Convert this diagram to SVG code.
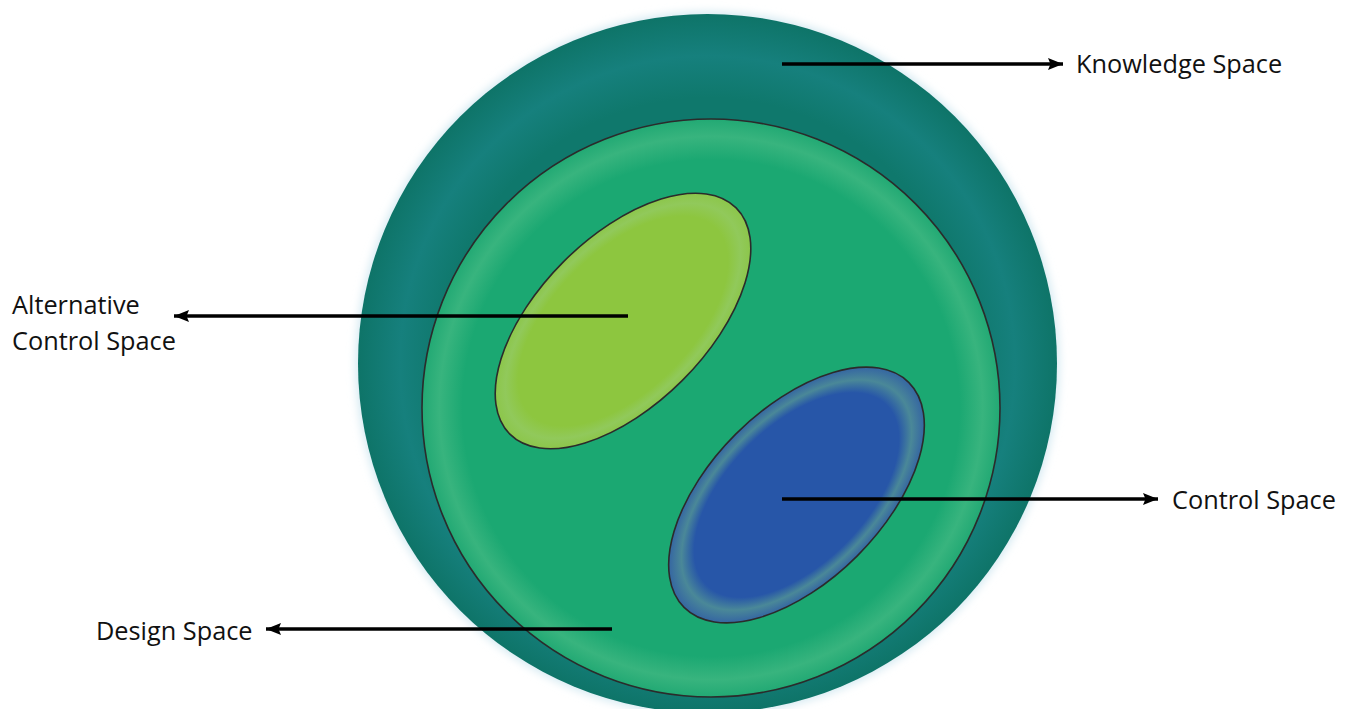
<svg xmlns="http://www.w3.org/2000/svg" width="1351" height="709" viewBox="0 0 1351 709">
<style>
.lbl{font-family:"Open Sans","Liberation Sans",sans-serif;font-size:25.3px;fill:#111}
.con{stroke:#000;stroke-width:3.5;fill:none}
.edge{stroke:#2b2b2b;stroke-width:1.6}
</style>
<defs>
<radialGradient id="gOuter" cx="0.5" cy="0.5" r="0.5">
<stop offset="0" stop-color="#0F786C"/>
<stop offset="0.76" stop-color="#0F786C"/>
<stop offset="0.88" stop-color="#16807D"/>
<stop offset="1" stop-color="#0E7468"/>
</radialGradient>
<radialGradient id="gInner" cx="0.5" cy="0.5" r="0.5">
<stop offset="0" stop-color="#1BA872"/>
<stop offset="0.86" stop-color="#1BA872"/>
<stop offset="0.94" stop-color="#38B47E"/>
<stop offset="1" stop-color="#22A974"/>
</radialGradient>
<radialGradient id="gGreen" cx="0.5" cy="0.5" r="0.5">
<stop offset="0" stop-color="#8DC63F"/>
<stop offset="0.82" stop-color="#8DC63F"/>
<stop offset="0.92" stop-color="#91C95B"/>
<stop offset="1" stop-color="#8CC64A"/>
</radialGradient>
<radialGradient id="gBlue" cx="0.5" cy="0.5" r="0.5">
<stop offset="0" stop-color="#2756A8"/>
<stop offset="0.8" stop-color="#2756A8"/>
<stop offset="0.9" stop-color="#4A8898"/>
<stop offset="1" stop-color="#3566A2"/>
</radialGradient>
<filter id="glow" x="-10%" y="-10%" width="120%" height="120%">
<feGaussianBlur stdDeviation="4"/>
</filter>
<marker id="arr" markerUnits="userSpaceOnUse" markerWidth="16" markerHeight="14" refX="15" refY="7" orient="auto">
<path d="M0,1 L15,7 L0,13 L2.5,7 z" fill="#000"/>
</marker>
</defs>
<rect width="1351" height="709" fill="#fff"/>
<g id="knowledge-space">
<circle cx="707.5" cy="363.5" r="352" fill="#d6eaf2" filter="url(#glow)"/>
<circle cx="707.5" cy="363.5" r="349.5" fill="url(#gOuter)"/>
</g>
<g id="design-space">
<circle cx="711" cy="408" r="289" fill="url(#gInner)" class="edge"/>
</g>
<g id="alternative-control-space">
<ellipse cx="623" cy="321" rx="160" ry="84" transform="rotate(-45 623 321)" fill="url(#gGreen)" class="edge"/>
</g>
<g id="control-space">
<ellipse cx="796.5" cy="495" rx="159" ry="86" transform="rotate(-45 796.5 495)" fill="url(#gBlue)" class="edge"/>
</g>
<g id="connectors">
<line class="con" x1="782" y1="64" x2="1063" y2="64" marker-end="url(#arr)"/>
<line class="con" x1="628" y1="316" x2="174" y2="316" marker-end="url(#arr)"/>
<line class="con" x1="782" y1="499" x2="1158" y2="499" marker-end="url(#arr)"/>
<line class="con" x1="612" y1="629" x2="266" y2="629" marker-end="url(#arr)"/>
</g>
<g id="labels">
<text class="lbl" x="1076" y="73">Knowledge Space</text>
<text class="lbl" x="12" y="314">Alternative</text>
<text class="lbl" x="12" y="350">Control Space</text>
<text class="lbl" x="1172" y="509">Control Space</text>
<text class="lbl" x="96" y="640">Design Space</text>
</g>
</svg>
